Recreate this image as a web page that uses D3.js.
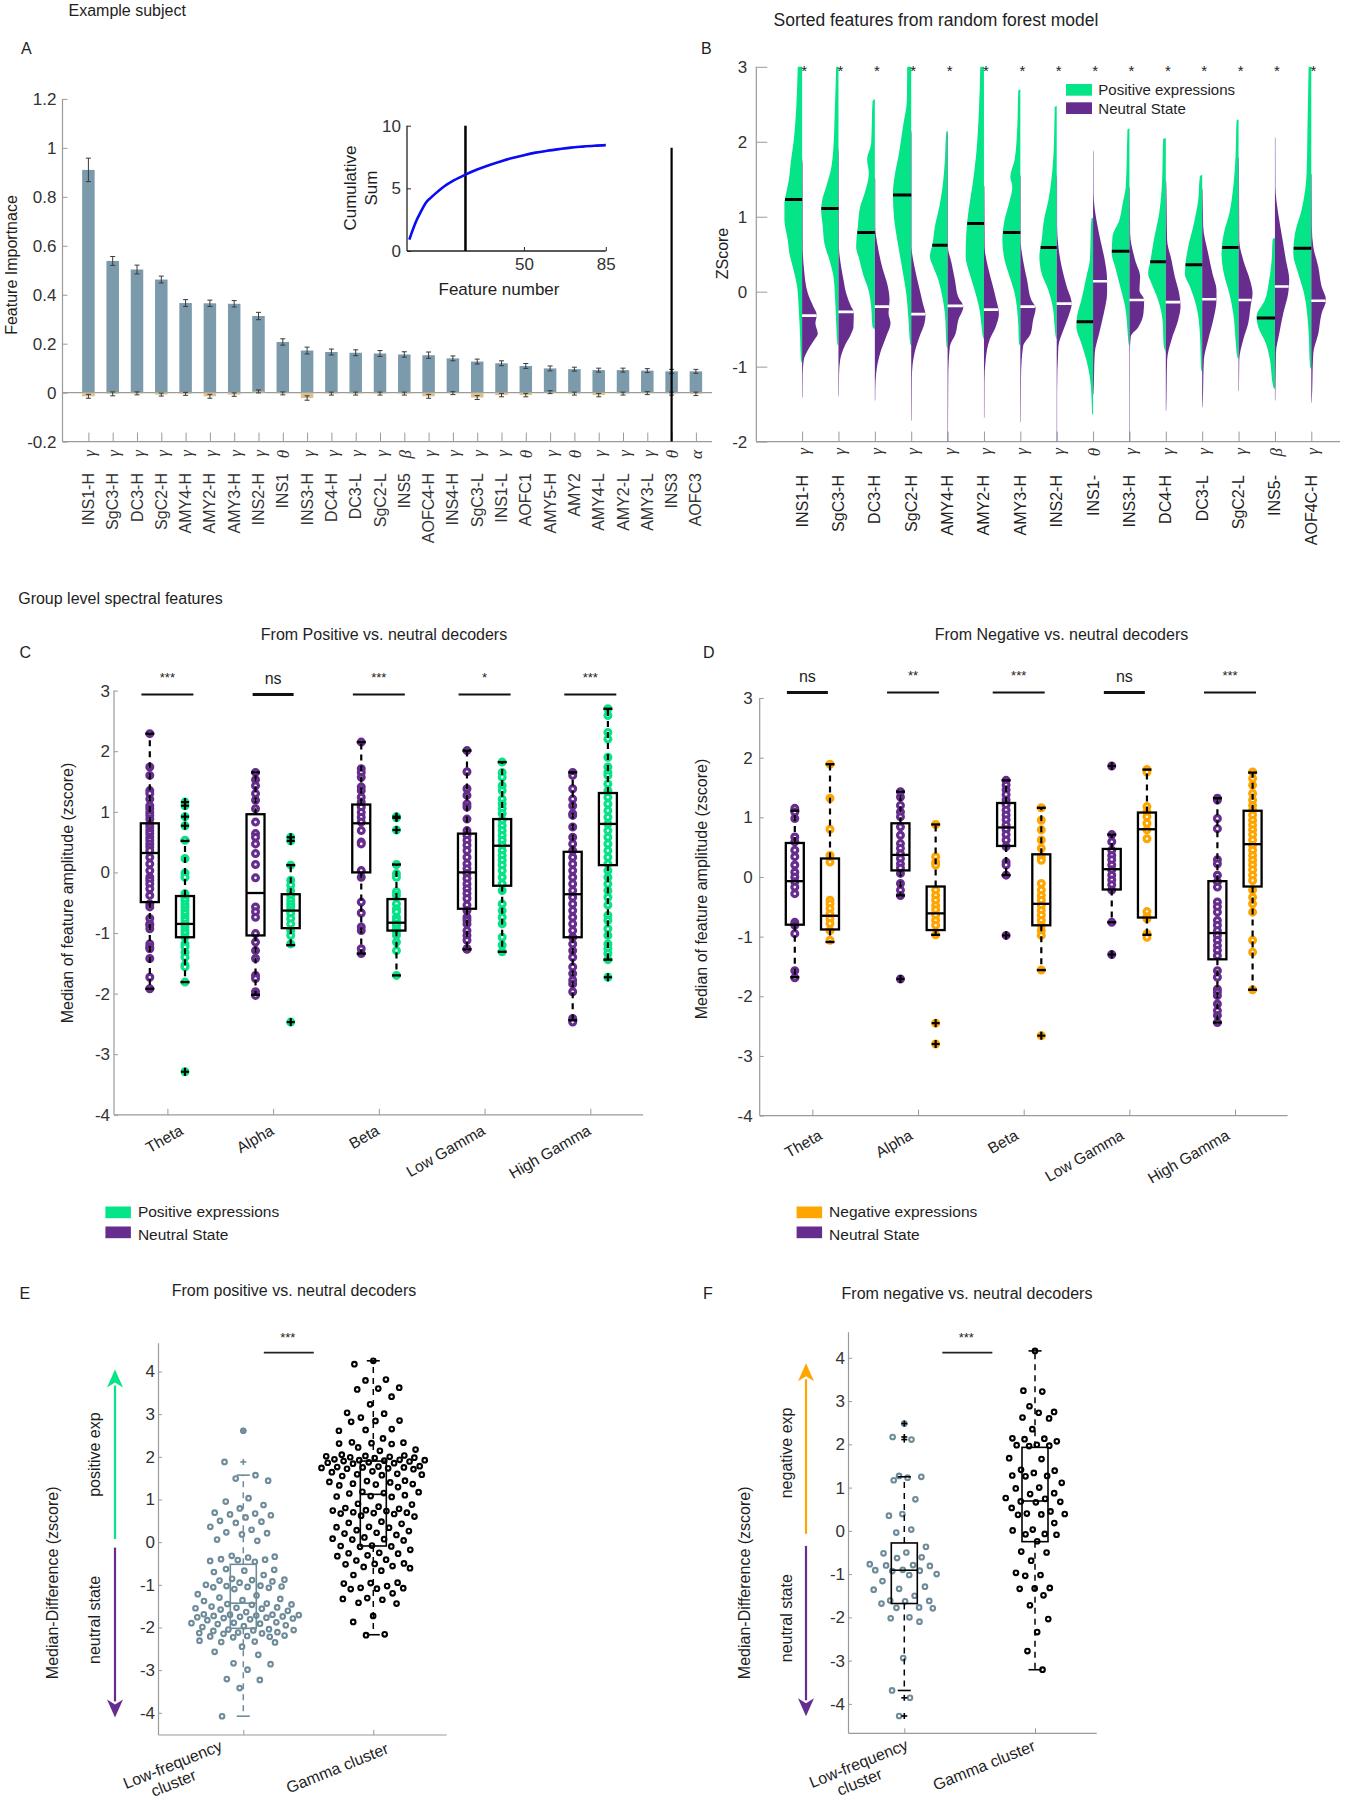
<!DOCTYPE html>
<html><head><meta charset="utf-8"><title>Spectral features figure</title>
<script src="https://cdn.jsdelivr.net/npm/d3@7"></script>
<style>html,body{margin:0;padding:0;background:#fff;}</style>
</head><body>
<script>
// ================= DATA =================
// ---- Panel A : feature importance (example subject)
const aNames = ["INS1-H","SgC3-H","DC3-H","SgC2-H","AMY4-H","AMY2-H","AMY3-H","INS2-H","INS1","INS3-H","DC4-H","DC3-L","SgC2-L","INS5","AOFC4-H","INS4-H","SgC3-L","INS1-L","AOFC1","AMY5-H","AMY2","AMY4-L","AMY2-L","AMY3-L","INS3","AOFC3"];
const aBands = ["γ","γ","γ","γ","γ","γ","γ","γ","θ","γ","γ","γ","γ","β","γ","γ","γ","γ","θ","γ","θ","γ","γ","γ","θ","α"];
const aImportance = [0.91,0.538,0.503,0.462,0.366,0.365,0.363,0.313,0.207,0.172,0.166,0.163,0.16,0.156,0.153,0.14,0.127,0.12,0.109,0.099,0.096,0.092,0.092,0.09,0.087,0.087];
const aImportanceErr = [0.048,0.018,0.018,0.014,0.014,0.013,0.013,0.015,0.013,0.014,0.012,0.012,0.012,0.011,0.013,0.01,0.01,0.01,0.01,0.01,0.008,0.008,0.008,0.008,0.008,0.008];
const aNullImportance = [-0.015,-0.005,-0.003,-0.008,-0.005,-0.015,-0.008,0.005,-0.003,-0.022,-0.004,-0.004,-0.004,-0.004,-0.015,-0.002,-0.02,-0.01,-0.01,0.002,-0.004,-0.01,-0.004,-0.002,-0.004,-0.005];
const aNullErr = [0.008,0.008,0.006,0.006,0.006,0.008,0.007,0.006,0.006,0.009,0.006,0.006,0.006,0.006,0.008,0.006,0.008,0.007,0.007,0.006,0.006,0.007,0.006,0.006,0.006,0.007];
const aTicks = [-0.2,0,0.2,0.4,0.6,0.8,1,1.2];
const aCutoffFeature = "INS3";
const aCutoffTop = 1.0;
// inset: cumulative sum of importance
const insetFeatureNum = [1,2,4,6,8,10,12,15,20,25,30,35,40,45,50,55,60,65,70,75,80,85];
const insetCumSum = [0.91,1.45,2.42,3.16,3.84,4.22,4.56,5.03,5.63,6.1,6.5,6.85,7.15,7.42,7.65,7.85,8.0,8.13,8.25,8.33,8.4,8.45];
const insetCutoff = 25;
const insetXTicks = [50,85];
const insetYTicks = [0,5,10];

// ---- Panel B : split violins (z-score)
const bNames = ["INS1-H","SgC3-H","DC3-H","SgC2-H","AMY4-H","AMY2-H","AMY3-H","INS2-H","INS1-","INS3-H","DC4-H","DC3-L","SgC2-L","INS5-","AOF4C-H"];
const bBands = ["γ","γ","γ","γ","γ","γ","γ","γ","θ","γ","γ","γ","γ","β","γ"];
const bPosMedian = [1.23,1.11,0.79,1.29,0.62,0.91,0.79,0.59,-0.4,0.54,0.4,0.36,0.59,-0.35,0.58];
const bNeuMedian = [-0.32,-0.27,-0.2,-0.3,-0.19,-0.24,-0.2,-0.16,0.14,-0.11,-0.14,-0.1,-0.11,0.07,-0.12];
// density profiles [zscore, density]
const bPosDensity = [
 [[3.3,3.5],[3.0,4.3],[2.42,6],[1.98,8.7],[1.76,11],[1.49,13.3],[1.31,16],[1.18,17.7],[0.96,17.7],[0.69,14.3],[0.51,12.7],[0.33,9.3],[0.07,5],[-0.24,3.3],[-0.6,2],[-0.91,1.2],[-0.95,0]],
 [[3.3,2],[3.0,2.3],[2.42,3.7],[1.93,5],[1.62,7.7],[1.4,12.3],[1.22,16.3],[1.09,17.3],[0.87,15.7],[0.64,14],[0.42,9],[0.2,5],[-0.11,3.3],[-0.5,2],[-0.69,1.2],[-0.72,0]],
 [[2.57,0],[2.54,2.3],[1.98,3.7],[1.76,7.7],[1.58,6],[1.31,10.3],[1.13,14.7],[0.87,17],[0.6,18.7],[0.42,15.3],[0.24,12],[0.02,6.3],[-0.2,3.7],[-0.47,2.3],[-0.5,0]],
 [[3.3,3.5],[3.0,4],[2.56,4.3],[2.2,8.3],[1.84,12.3],[1.53,16.7],[1.31,18.3],[1.0,17.3],[0.64,13.3],[0.33,9.3],[-0.02,5],[-0.38,2.7],[-0.69,1],[-0.72,0]],
 [[2.15,0],[2.13,1.3],[1.76,2.7],[1.4,5],[1.13,8.3],[0.87,12.7],[0.64,15],[0.47,17.7],[0.33,14.3],[0.16,9.3],[-0.02,6],[-0.29,2.7],[-0.73,1],[-0.76,0]],
 [[3.3,3.5],[3.0,3.7],[2.42,5],[1.84,7.7],[1.4,11.7],[1.09,15.3],[0.78,17.7],[0.47,18.3],[0.24,14.3],[0.02,9.3],[-0.2,5],[-0.47,2.3],[-0.6,1],[-0.63,0]],
 [[2.7,0],[2.68,2],[2.2,3],[1.76,5.7],[1.53,10],[1.4,8],[1.18,11.3],[0.96,15.7],[0.69,18],[0.42,15.7],[0.2,10.7],[-0.02,5.7],[-0.38,2.3],[-0.69,1.3],[-0.72,0]],
 [[2.48,0],[2.46,2],[1.98,2.7],[1.53,5],[1.22,8.3],[0.96,12.7],[0.69,15],[0.47,17.3],[0.24,15],[0.02,8.3],[-0.2,4],[-0.47,2],[-0.6,1],[-0.63,0]],
 [[0.99,0],[0.97,1.7],[0.42,3.3],[0.2,6.7],[-0.11,11.7],[-0.33,16],[-0.47,16.7],[-0.69,11.7],[-0.91,6.7],[-1.13,3.3],[-1.36,1.7],[-1.62,1],[-1.65,0]],
 [[2.18,0],[2.16,2],[1.76,2.7],[1.4,3.7],[1.18,6.7],[0.96,10],[0.73,17],[0.51,17.7],[0.33,14.3],[0.07,9.3],[-0.2,4.3],[-0.56,1.7],[-0.7,0.8],[-0.72,0]],
 [[2.05,0],[2.03,2.7],[1.49,3.7],[1.04,6.7],[0.69,12],[0.42,15.3],[0.24,17.7],[0.11,14.3],[-0.11,7.7],[-0.38,3.3],[-0.73,2],[-0.8,0]],
 [[1.56,0],[1.54,2.3],[1.22,4],[0.87,9],[0.6,14],[0.42,16.3],[0.24,17.3],[0.07,12.3],[-0.2,5.7],[-0.56,2.3],[-1.04,1],[-1.07,0]],
 [[2.3,0],[2.28,2],[1.8,3],[1.4,5.3],[1.04,9.3],[0.78,14.7],[0.51,17],[0.24,14.7],[-0.02,9.3],[-0.29,5.3],[-0.69,2.7],[-0.87,1.3],[-0.9,0]],
 [[0.72,0],[0.7,2.3],[0.42,3.3],[0.16,5.7],[-0.11,10],[-0.33,18.3],[-0.47,16.7],[-0.69,9],[-0.91,5],[-1.27,1.7],[-1.3,0]],
 [[3.3,2.5],[3.0,2.7],[2.29,3.7],[1.58,4.7],[1.09,9.7],[0.78,16.3],[0.51,18],[0.24,13],[-0.02,7.3],[-0.47,3],[-1.0,1.3],[-1.03,0]]
];
const bNeuDensity = [
 [[1.78,0],[1.7,0.5],[0.6,0.6],[0.33,1.7],[-0.02,5.7],[-0.2,11.3],[-0.31,14.7],[-0.42,13.3],[-0.56,15.7],[-0.64,12.3],[-0.78,5.7],[-0.91,1.7],[-1.1,0.6],[-1.4,0.4],[-1.42,0]],
 [[1.92,0],[1.85,0.4],[0.6,0.5],[0.33,2.7],[0.16,5],[-0.02,7.7],[-0.2,12.7],[-0.27,15.3],[-0.47,15],[-0.56,12.7],[-0.73,6],[-0.91,1.7],[-1.1,0.6],[-1.38,0.4],[-1.4,0]],
 [[1.53,0],[1.5,0.4],[0.87,0.4],[0.6,3],[0.33,7.3],[0.07,13],[-0.11,14.7],[-0.29,13.7],[-0.42,15.7],[-0.6,11.3],[-0.82,5.3],[-1.09,1.3],[-1.3,0.5],[-1.44,0.4],[-1.46,0]],
 [[2.16,0],[2.1,0.4],[0.6,0.4],[0.33,3.3],[0.07,7.7],[-0.16,11.7],[-0.31,14.3],[-0.42,13.3],[-0.6,8.3],[-0.82,3.3],[-1.13,0.7],[-1.71,0.4],[-1.73,0]],
 [[2.14,0],[2.1,0.4],[0.6,0.4],[0.38,4],[0.16,7.3],[-0.07,10.7],[-0.2,15.7],[-0.38,10.7],[-0.56,8],[-0.73,2.3],[-1.13,0.7],[-2.1,0.4]],
 [[1.42,0],[1.4,0.4],[0.6,0.7],[0.33,4],[0.07,9],[-0.11,12.3],[-0.29,15],[-0.47,11.7],[-0.64,5.7],[-0.91,1.7],[-1.2,0.5],[-1.67,0.4],[-1.69,0]],
 [[1.56,0],[1.53,0.4],[0.69,0.4],[0.42,2.7],[0.16,6.7],[-0.11,11],[-0.22,15.3],[-0.38,12.7],[-0.56,10.3],[-0.73,2.7],[-1.13,0.7],[-1.73,0.4],[-1.75,0]],
 [[1.56,0],[1.53,0.4],[0.87,0.4],[0.6,1.7],[0.33,5],[0.07,10],[-0.16,15],[-0.33,11.7],[-0.51,6.7],[-0.73,1.7],[-1.36,0.4],[-2.1,0.4]],
 [[1.89,0],[1.86,0.4],[1.31,0.5],[0.96,3.3],[0.69,7.3],[0.42,11.7],[0.16,14],[-0.02,14],[-0.29,10.7],[-0.56,6],[-0.82,1.7],[-1.36,0.4],[-1.38,0]],
 [[1.4,0],[1.38,0.4],[0.78,0.7],[0.42,5.7],[0.2,10.7],[0.02,10],[-0.11,14.7],[-0.29,14],[-0.47,9],[-0.6,1.3],[-0.8,0.5],[-2.1,0.4]],
 [[1.49,0],[1.46,0.4],[0.69,1.3],[0.42,5.7],[0.2,9],[-0.02,13.3],[-0.2,14.7],[-0.38,12.3],[-0.64,5.7],[-0.91,1.3],[-1.58,0.4],[-1.6,0]],
 [[1.38,0],[1.35,0.4],[0.87,1],[0.51,6],[0.24,10.3],[0.02,14.3],[-0.11,14.3],[-0.38,11],[-0.64,6],[-0.91,1.7],[-1.53,0.4],[-1.55,0]],
 [[1.8,0],[1.77,0.4],[0.69,0.7],[0.42,4.7],[0.16,11.3],[-0.02,14],[-0.2,12],[-0.42,9.7],[-0.64,4.7],[-0.91,0.7],[-1.31,0.4],[-1.33,0]],
 [[2.07,0],[2.04,0.4],[1.4,0.5],[1.04,3.3],[0.69,7.7],[0.42,11],[0.16,14.3],[-0.02,13.3],[-0.29,8.3],[-0.56,4.3],[-0.82,1],[-1.44,0.4],[-1.46,0]],
 [[1.58,0],[1.55,0.4],[0.85,0.6],[0.6,2],[0.33,7],[0.07,10.3],[-0.11,14.7],[-0.29,10.3],[-0.56,7],[-0.82,2],[-1.47,0.4],[-1.49,0]]
];
const bTicks = [-2,-1,0,1,2,3];

// ---- Panels C/D : group level box plots
const bandNames = ["Theta","Alpha","Beta","Low Gamma","High Gamma"];
const cdTicks = [-4,-3,-2,-1,0,1,2,3];
const cNeutralPts = [
 [2.29,1.74,1.6,1.35,1.3,1.21,1.1,1.05,0.99,0.94,0.88,0.8,0.75,0.69,0.64,0.58,0.53,0.47,0.42,0.36,0.25,0.14,0.03,-0.08,-0.13,-0.19,-0.27,-0.38,-0.52,-0.57,-0.76,-0.85,-0.87,-0.93,-1.18,-1.23,-1.26,-1.42,-1.73,-1.92],
 [1.65,1.53,1.43,1.3,1.19,1.05,0.83,0.64,0.58,0.47,0.31,0.13,-0.09,-0.57,-0.65,-0.74,-1.01,-1.15,-1.29,-1.42,-1.7,-1.75,-1.97,-2.03],
 [2.15,1.71,1.65,1.57,1.41,1.35,1.24,1.16,1.08,0.99,0.91,0.83,0.69,0.5,0.47,0.03,-0.08,-0.49,-0.67,-0.9,-0.96,-1.26,-1.34],
 [2.01,1.66,1.38,1.27,1.13,1.08,0.88,0.69,0.61,0.53,0.45,0.36,0.25,0.14,0.06,-0.02,-0.1,-0.19,-0.27,-0.35,-0.43,-0.54,-0.63,-0.74,-0.79,-0.85,-0.96,-1.04,-1.12,-1.26,-1.27],
 [1.65,1.6,1.38,1.21,1.1,0.97,0.94,0.75,0.58,0.47,0.36,0.25,0.14,0.03,-0.08,-0.19,-0.3,-0.41,-0.52,-0.63,-0.74,-0.85,-0.96,-1.07,-1.18,-1.29,-1.4,-1.56,-1.67,-1.78,-1.84,-1.97,-2.41,-2.47]
];
const cPositivePts = [
 [1.16,1.1,0.92,0.77,0.53,0.23,-0.01,-0.08,-0.35,-0.41,-0.46,-0.52,-0.57,-0.63,-0.68,-0.74,-0.79,-0.85,-0.9,-0.96,-1.01,-1.07,-1.18,-1.23,-1.32,-1.4,-1.53,-1.56,-1.81,-3.29],
 [0.58,0.52,0.12,-0.13,-0.21,-0.3,-0.38,-0.46,-0.52,-0.57,-0.63,-0.68,-0.76,-0.85,-0.96,-1.04,-1.18,-2.47],
 [0.92,0.9,0.7,0.13,-0.02,-0.08,-0.32,-0.38,-0.52,-0.6,-0.65,-0.74,-0.79,-0.85,-0.87,-0.93,-0.98,-1.04,-1.15,-1.29,-1.7],
 [1.82,1.65,1.57,1.43,1.35,1.21,1.13,1.05,0.97,0.86,0.77,0.69,0.61,0.53,0.45,0.36,0.28,0.2,0.12,0.03,-0.08,-0.19,-0.3,-0.52,-0.63,-0.74,-0.85,-1.07,-1.2,-1.31],
 [2.7,2.59,2.31,2.2,1.9,1.74,1.65,1.6,1.46,1.35,1.24,1.13,1.02,0.91,0.8,0.69,0.58,0.47,0.36,0.25,0.14,0.03,-0.08,-0.19,-0.3,-0.41,-0.54,-0.71,-0.79,-0.93,-1.04,-1.18,-1.26,-1.34,-1.44,-1.73]
];
// box stats: [lower whisker, q1, median, q3, upper whisker]
const cNeutralBox = [[-1.92,-0.49,0.32,0.81,2.29],[-2.02,-1.04,-0.34,0.96,1.65],[-1.34,0.0,0.81,1.12,2.15],[-1.27,-0.6,0.0,0.64,2.01],[-2.44,-1.07,-0.36,0.34,1.65]];
const cPositiveBox = [[-1.81,-1.07,-0.85,-0.39,0.52],[-1.2,-0.92,-0.63,-0.36,0.12],[-1.7,-0.96,-0.83,-0.44,0.13],[-1.31,-0.22,0.44,0.88,1.82],[-1.44,0.12,0.8,1.31,2.7]];
const cNeutralOut = [[],[],[],[],[]];
const cPositiveOut = [[1.16,1.1,0.92,0.77,-3.29],[0.58,0.52,-2.47],[0.92,0.9,0.7],[],[-1.73]];
const cSignif = ["***","ns","***","*","***"];

const dNeutralPts = [
 [1.15,1.09,0.98,0.67,0.59,0.45,0.34,0.2,0.08,0,-0.08,-0.17,-0.28,-0.76,-0.81,-0.95,-1.57,-1.69],
 [1.43,1.34,1.2,1.09,1.01,0.84,0.7,0.56,0.48,0.39,0.31,0.22,0.15,0.06,-0.11,-0.22,-0.31,-1.71],
 [1.62,1.54,1.46,1.38,1.29,1.21,1.12,1.04,0.96,0.87,0.79,0.71,0.62,0.51,0.25,0.2,0.03,-0.98],
 [1.86,0.71,0.59,0.45,0.36,0.29,0.2,0.12,0.03,-0.05,-0.13,-0.22,-0.76,-1.3],
 [1.32,1.29,0.98,0.81,0.29,0.22,0.03,-0.08,-0.17,-0.42,-0.5,-0.59,-0.73,-0.81,-0.9,-0.98,-1.06,-1.15,-1.23,-1.32,-1.57,-1.68,-1.88,-1.93,-1.99,-2.13,-2.24,-2.32,-2.44]
];
const dNegativePts = [
 [1.89,1.32,0.8,0.36,0.25,-0.39,-0.45,-0.53,-0.62,-0.7,-0.78,-0.9,-1.06],
 [0.88,0.34,0.25,0.2,-0.22,-0.31,-0.39,-0.48,-0.55,-0.64,-0.73,-0.81,-0.97,-2.45,-2.8],
 [1.16,0.95,0.79,0.62,0.48,0.34,0.28,-0.11,-0.22,-0.31,-0.39,-0.48,-0.56,-0.64,-0.73,-0.81,-0.9,-0.98,-1.56,-2.66],
 [1.8,1.76,1.18,1.09,1.01,0.9,0.79,0.64,-0.58,-0.67,-0.7,-0.95,-1.01],
 [1.76,1.65,1.54,1.4,1.29,1.2,1.12,1.04,0.95,0.87,0.79,0.71,0.62,0.53,0.45,0.36,0.28,0.2,0.12,0.03,-0.06,-0.22,-0.34,-0.45,-0.59,-1.06,-1.26,-1.89]
];
const dNeutralBox = [[-1.68,-0.8,-0.07,0.57,1.11],[-0.31,0.11,0.37,0.9,1.43],[0.03,0.52,0.83,1.24,1.62],[-0.76,-0.21,0.13,0.47,0.71],[-2.44,-1.38,-0.94,-0.07,1.32]];
const dNegativeBox = [[-1.09,-0.88,-0.65,0.31,1.89],[-0.97,-0.89,-0.61,-0.16,0.88],[-1.56,-0.81,-0.45,0.38,1.16],[-0.97,-0.68,0.8,1.08,1.8],[-1.89,-0.16,0.55,1.11,1.75]];
const dNeutralOut = [[],[-1.71],[-0.98],[1.86,-1.3],[]];
const dNegativeOut = [[],[-2.45,-2.8],[-2.66],[],[]];
const dSignif = ["ns","**","***","ns","***"];

// ---- Panels E/F : median differences by cluster
const clusterNames = ["Low-frequency cluster","Gamma cluster"];
const efTicks = [-4,-3,-2,-1,0,1,2,3,4];
const eLowPts = [2.61,1.88,1.57,1.49,1.44,1.03,0.95,0.87,0.79,0.69,0.67,0.65,0.63,0.58,0.5,0.48,0.45,0.36,0.29,0.23,0.21,0.18,0.06,0.03,
 -0.32,-0.34,-0.36,-0.4,-0.42,-0.44,-0.41,-0.46,-0.63,-0.65,-0.67,-0.7,-0.77,-0.86,-0.88,-0.9,-0.92,-0.89,-0.95,-1.0,-1.02,-1.04,-1.05,-1.03,-1.07,-1.06,-1.1,
 -1.22,-1.25,-1.3,-1.33,-1.36,-1.38,-1.44,-1.46,-1.47,-1.45,-1.51,-1.53,-1.55,-1.56,-1.54,-1.58,-1.61,-1.64,-1.69,-1.7,-1.71,-1.72,-1.73,-1.7,-1.74,
 -1.76,-1.77,-1.75,-1.78,-1.79,-1.81,-1.83,-1.88,-1.9,-1.91,-1.89,-1.92,-1.95,-1.97,-1.99,-2.04,-2.05,-2.06,-2.07,-2.08,-2.12,-2.13,-2.14,-2.11,-2.15,
 -2.19,-2.2,-2.21,-2.23,-2.22,-2.31,-2.33,-2.34,-2.35,-2.45,-2.57,-2.64,-2.84,-2.86,-2.99,-3.21,-3.23,-3.42,-4.08];
const eGammaPts = [4.25,4.17,3.81,3.79,3.62,3.6,3.58,3.41,3.23,3.03,3.01,2.92,2.85,2.84,2.82,2.65,2.63,2.61,2.43,2.34,2.33,2.32,2.31,2.3,2.22,2.17,2.14,
 2.05,2.03,2.02,2.01,2.0,1.99,1.98,1.97,1.94,1.93,1.92,1.92,1.91,1.9,1.89,1.87,1.86,1.85,1.84,1.78,1.77,1.76,1.75,1.75,1.74,1.73,1.72,1.71,
 1.66,1.64,1.6,1.59,1.58,1.57,1.55,1.44,1.43,1.41,1.4,1.37,1.36,1.35,1.33,1.29,1.18,1.17,1.15,1.14,1.1,1.08,1.07,1.06,0.9,0.88,0.83,
 0.8,0.78,0.75,0.74,0.73,0.7,0.69,0.68,0.67,0.66,0.62,0.6,0.48,0.45,0.43,0.36,0.35,0.34,0.28,0.26,0.22,0.2,0.17,0.11,0.08,0.07,0.06,0.04,
 -0.08,-0.09,-0.1,-0.11,-0.18,-0.25,-0.26,-0.27,-0.31,-0.33,-0.41,-0.43,-0.5,-0.51,-0.52,-0.56,-0.58,-0.61,-0.67,-0.77,-0.95,-0.96,-0.97,
 -1.03,-1.07,-1.08,-1.09,-1.1,-1.2,-1.31,-1.33,-1.35,-1.42,-1.44,-1.73,-1.87,-2.16,-2.18];
const eBoxLow = [-4.08,-2.02,-1.43,-0.52,1.57];
const eBoxGamma = [-2.17,-0.09,1.12,1.9,4.25];
const eOutLow = [2.61,1.88];
const eOutGamma = [];
const fLowPts = [2.48,2.17,2.11,1.27,1.25,1.23,1.17,0.73,0.39,0.35,0.03,-0.04,-0.37,-0.5,-0.52,-0.61,-0.63,-0.77,-0.79,-0.8,-0.81,
 -0.9,-0.91,-0.92,-0.93,-1.0,-1.02,-1.16,-1.29,-1.34,-1.36,-1.5,-1.61,-1.62,-1.63,-1.68,-1.77,-1.78,-1.79,-2.0,-2.02,-2.1,-2.94,-3.69,-3.86,-4.28];
const fGammaPts = [4.16,3.24,3.22,2.88,2.75,2.73,2.62,2.6,2.35,2.14,2.13,2.12,2.07,1.99,1.98,1.97,1.96,1.68,1.66,1.41,1.39,1.34,1.28,1.27,1.26,1.11,
 1.0,0.98,0.87,0.85,0.76,0.74,0.68,0.67,0.66,0.53,0.45,0.4,0.39,0.38,0.37,0.18,0.03,0.01,-0.07,-0.08,-0.09,-0.24,-0.48,-0.5,-0.69,-0.97,
 -1.02,-1.04,-1.32,-1.33,-1.34,-1.49,-1.72,-2.04,-2.34,-2.78,-3.21];
const fBoxLow = [-3.69,-1.68,-0.91,-0.28,1.25];
const fBoxGamma = [-3.21,-0.25,0.69,1.93,4.16];
const fOutLow = [2.48,2.17,2.11,-3.86,-4.28];
const fOutGamma = [];

// ================= STYLE =================
const FONT = "'Liberation Sans', Arial, Helvetica, sans-serif";
const SERIF = "'Liberation Serif', 'DejaVu Serif', serif";
const GREEN = "#05e487", PURPLE = "#662d8f", ORANGE = "#ffa500";
const BAR = "#7b9aab", TAN = "#dcbf8e", SLATE = "#6e8b9a";
const AXIS = "#9a9a9a", TXT = "#1e1e1e", TICKTXT = "#333";

const svg = d3.select("body").append("svg").attr("width",1345).attr("height",1800)
  .style("font-family", FONT).style("background","#fff");

function text(g, x, y, s, o = {}) {
  const t = g.append("text").attr("x", x).attr("y", y).text(s)
    .attr("font-size", o.size || 16).attr("fill", o.fill || TXT)
    .attr("text-anchor", o.anchor || "start").attr("font-family", o.family || FONT);
  if (o.rotate != null) t.attr("transform", `rotate(${o.rotate},${x},${y})`);
  if (o.baseline) t.attr("dominant-baseline", o.baseline);
  if (o.italic) t.attr("font-style", "italic");
  return t;
}
function styleAxis(sel, size, color) {
  sel.select(".domain").remove();
  sel.selectAll(".tick line").attr("stroke", color || AXIS).attr("stroke-width", 1);
  sel.selectAll(".tick text").attr("font-size", size).attr("fill", TICKTXT).attr("font-family", FONT);
}
function hline(g, x1, x2, y, c, w) { return g.append("line").attr("x1",x1).attr("x2",x2).attr("y1",y).attr("y2",y).attr("stroke",c).attr("stroke-width",w); }
function vline(g, x, y1, y2, c, w) { return g.append("line").attr("x1",x).attr("x2",x).attr("y1",y1).attr("y2",y2).attr("stroke",c).attr("stroke-width",w); }
const fmt = d => String(d);

// ================= PANEL A =================
(function(){
  const g = svg.append("g");
  text(g, 68.5, 16, "Example subject");
  text(g, 21, 54, "A");
  const xA = d3.scalePoint().domain(aNames).range([88.4, 695.9]);
  const yA = d3.scaleLinear().domain([-0.2, 1.2]).range([441.6, 98.9]);
  const L = 62.5, R = 712;
  vline(g, L, yA(1.2), yA(-0.2), AXIS, 1.2);
  hline(g, L, R, yA(-0.2), AXIS, 1.2);
  g.append("g").attr("transform", `translate(${L},0)`)
    .call(d3.axisLeft(yA).tickValues(aTicks).tickSize(-5).tickPadding(6).tickFormat(fmt))
    .call(s => styleAxis(s, 17));
  g.append("g").attr("transform", `translate(0,${yA(-0.2)})`)
    .call(d3.axisBottom(xA).tickSize(-9).tickFormat(""))
    .call(s => styleAxis(s, 16));
  hline(g, L, R, yA(0), AXIS, 1.2);
  const bw = 12.5;
  aNames.forEach((n, i) => {
    const x = xA(n), v = aImportance[i], e = aImportanceErr[i];
    g.append("rect").attr("x", x - bw/2).attr("width", bw).attr("y", yA(v)).attr("height", yA(0) - yA(v)).attr("fill", BAR);
    const nv = aNullImportance[i];
    g.append("rect").attr("x", x - bw/2).attr("width", bw).attr("y", Math.min(yA(0), yA(nv))).attr("height", Math.abs(yA(nv) - yA(0))).attr("fill", TAN);
    [[v, e], [nv, aNullErr[i]]].forEach(([m, er]) => {
      vline(g, x, yA(m - er), yA(m + er), "#3a3a3a", 1);
      hline(g, x - 2.5, x + 2.5, yA(m + er), "#3a3a3a", 1);
      hline(g, x - 2.5, x + 2.5, yA(m - er), "#3a3a3a", 1);
    });
    text(g, x, 473, n, {anchor:"end", rotate:-90, baseline:"central", fill:"#333"});
    text(g, x + 1, 450, aBands[i], {anchor:"end", rotate:-90, baseline:"central", italic:true, family:SERIF, fill:"#333", size:17});
  });
  vline(g, xA(aCutoffFeature), yA(aCutoffTop), yA(-0.2), "#000", 2.2);
  text(g, 11, 265, "Feature Importnace", {anchor:"middle", rotate:-90, baseline:"central"});

  // inset
  const xI = d3.scaleLinear().domain([0, 85]).range([407, 605.8]);
  const yI = d3.scaleLinear().domain([0, 10]).range([251, 125.7]);
  vline(g, xI(0), yI(10), yI(0), "#222", 1.3);
  hline(g, xI(0), xI(85), yI(0), "#222", 1.3);
  g.append("g").attr("transform", `translate(${xI(0)},0)`)
    .call(d3.axisLeft(yI).tickValues(insetYTicks).tickSize(-4).tickPadding(6).tickFormat(fmt))
    .call(s => styleAxis(s, 17, "#222"));
  g.append("g").attr("transform", `translate(0,${yI(0)})`)
    .call(d3.axisBottom(xI).tickValues(insetXTicks).tickSize(-4).tickPadding(7).tickFormat(fmt))
    .call(s => styleAxis(s, 17, "#222"));
  vline(g, xI(insetCutoff), yI(10), yI(0), "#000", 2.5);
  g.append("path").datum(insetFeatureNum.map((f, i) => [f, insetCumSum[i]]))
    .attr("d", d3.line().x(d => xI(d[0])).y(d => yI(d[1])).curve(d3.curveMonotoneX))
    .attr("fill", "none").attr("stroke", "#0a0af5").attr("stroke-width", 2.6);
  text(g, 350, 188, "Cumulative", {anchor:"middle", rotate:-90, baseline:"central", size:17});
  text(g, 371, 188, "Sum", {anchor:"middle", rotate:-90, baseline:"central", size:17});
  text(g, 499, 295, "Feature number", {anchor:"middle", size:17});
})();

// ================= PANEL B =================
(function(){
  const g = svg.append("g");
  text(g, 701, 53.5, "B");
  text(g, 936, 26, "Sorted features from random forest model", {anchor:"middle", size:17.5});
  const xB = d3.scalePoint().domain(bNames).range([802.1, 1311.3]);
  const yB = d3.scaleLinear().domain([-2, 3]).range([441.6, 66.8]);
  const wB = d3.scaleLinear().domain([0, 20]).range([0, 20]);
  const L = 756.3, R = 1340;
  vline(g, L, yB(3), yB(-2), AXIS, 1.2);
  hline(g, L, R, yB(-2), AXIS, 1.2);
  g.append("g").attr("transform", `translate(${L},0)`)
    .call(d3.axisLeft(yB).tickValues(bTicks).tickSize(-11).tickPadding(9).tickFormat(fmt))
    .call(s => styleAxis(s, 17));
  g.append("g").attr("transform", `translate(0,${yB(-2)})`)
    .call(d3.axisBottom(xB).tickSize(-10).tickFormat(""))
    .call(s => styleAxis(s, 16));
  svg.append("clipPath").attr("id", "clipB").append("rect")
    .attr("x", L).attr("y", yB(3)).attr("width", R - L).attr("height", yB(-2) - yB(3));
  const vg = g.append("g").attr("clip-path", "url(#clipB)");
  bNames.forEach((n, i) => {
    const xc = xB(n);
    const pos = bPosDensity[i], neu = bNeuDensity[i];
    vg.append("path").datum(pos)
      .attr("d", d3.area().y(d => yB(d[0])).x0(d => xc - wB(d[1])).x1(xc).curve(d3.curveMonotoneY))
      .attr("fill", GREEN);
    vg.append("path").datum(neu)
      .attr("d", d3.area().y(d => yB(d[0])).x0(xc).x1(d => xc + wB(d[1])).curve(d3.curveMonotoneY))
      .attr("fill", PURPLE);
    const interp = prof => { const s = prof.slice().reverse(); return d3.scaleLinear().domain(s.map(d => d[0])).range(s.map(d => d[1])).clamp(true); };
    const wp = wB(interp(pos)(bPosMedian[i])), wn = wB(interp(neu)(bNeuMedian[i]));
    hline(vg, xc - wp, xc, yB(bPosMedian[i]), "#000", 3);
    hline(vg, xc, xc + wn, yB(bNeuMedian[i]), "#fff", 2.6);
    text(g, xc + 2, 76, "*", {anchor:"middle", size:15});
    text(g, xc, 475, n, {anchor:"end", rotate:-90, baseline:"central"});
    text(g, xc + 1.5, 448, bBands[i], {anchor:"end", rotate:-90, baseline:"central", italic:true, family:SERIF, fill:"#333", size:17});
  });
  text(g, 722.5, 253.5, "ZScore", {anchor:"middle", rotate:-90, baseline:"central"});
  // legend
  g.append("rect").attr("x", 1066).attr("y", 84).attr("width", 26).attr("height", 11.7).attr("fill", GREEN);
  g.append("rect").attr("x", 1066).attr("y", 102.3).attr("width", 26).attr("height", 11.7).attr("fill", PURPLE);
  text(g, 1098.3, 95, "Positive expressions", {size:15});
  text(g, 1098.3, 114, "Neutral State", {size:15});
})();

// ================= PANELS C / D =================
function groupPanel(o) {
  const g = svg.append("g");
  text(g, o.letterX, 658, o.letter);
  text(g, o.titleX, 640, o.title, {anchor:"middle"});
  const y = d3.scaleLinear().domain([-4, 3]).range([o.yBot, o.yTop]);
  const x = d3.scalePoint().domain(bandNames).range(o.tickRange);
  vline(g, o.L, y(3), y(-4), AXIS, 1.2);
  hline(g, o.L, o.R, y(-4), AXIS, 1.2);
  g.append("g").attr("transform", `translate(${o.L},0)`)
    .call(d3.axisLeft(y).tickValues(cdTicks).tickSize(-4).tickPadding(o.pad).tickFormat(fmt))
    .call(s => styleAxis(s, 17));
  g.append("g").attr("transform", `translate(0,${y(-4)})`)
    .call(d3.axisBottom(x).tickSize(-6).tickFormat(""))
    .call(s => styleAxis(s, 16));
  const off = 17.6, bw = 18, cap = 9;
  const series = [
    {pts: o.ptsA, box: o.boxA, out: o.outA, col: PURPLE, dx: -off},
    {pts: o.ptsB, box: o.boxB, out: o.outB, col: o.colB, dx: off}
  ];
  series.forEach(s => bandNames.forEach((b, i) => {
    const cx = x(b) + s.dx;
    g.selectAll(null).data(s.pts[i]).enter().append("circle")
      .attr("cx", cx).attr("cy", d => y(d)).attr("r", 2.9)
      .attr("fill", "#fff").attr("stroke", s.col).attr("stroke-width", 3.2);
  }));
  series.forEach(s => bandNames.forEach((b, i) => {
    const cx = x(b) + s.dx, st = s.box[i];
    vline(g, cx, y(st[3]), y(st[4]), "#000", 2.2).attr("stroke-dasharray", "6,5");
    vline(g, cx, y(st[1]), y(st[0]), "#000", 2.2).attr("stroke-dasharray", "6,5");
    hline(g, cx - cap/2, cx + cap/2, y(st[0]), "#000", 2.4);
    hline(g, cx - cap/2, cx + cap/2, y(st[4]), "#000", 2.4);
    g.append("rect").attr("x", cx - bw/2).attr("width", bw).attr("y", y(st[3])).attr("height", y(st[1]) - y(st[3]))
      .attr("fill", "none").attr("stroke", "#000").attr("stroke-width", 2.3);
    hline(g, cx - bw/2, cx + bw/2, y(st[2]), "#000", 2.3);
    s.out[i].forEach(v => {
      hline(g, cx - 4, cx + 4, y(v), "#000", 2.2);
      vline(g, cx, y(v) - 4, y(v) + 4, "#000", 2.2);
    });
  }));
  bandNames.forEach((b, i) => {
    const cx = x(b) + o.sigDx, ns = o.sig[i] === "ns";
    const half = ns ? 20.5 : 26;
    hline(g, cx - half, cx + half, o.sigY, "#111", ns ? 3 : 2);
    if (ns) text(g, cx, o.sigY - 11, "ns", {anchor:"middle"});
    else text(g, cx, o.sigY - 13, o.sig[i], {anchor:"middle", size:13});
    const extra = b === "Theta" ? 15 : 0;
    text(g, x(b) + o.lblDx + extra, y(-4) + o.lblDy, b, {anchor:"end", rotate:-30, baseline:"central", size:15.5});
  });
  text(g, o.ylabX, o.ylabY, "Median of feature amplitude (zscore)", {anchor:"middle", rotate:-90, baseline:"central"});
  // legend
  g.append("rect").attr("x", o.legX).attr("y", 1206.5).attr("width", 25.5).attr("height", 11.7).attr("fill", o.colB);
  g.append("rect").attr("x", o.legX).attr("y", 1226.5).attr("width", 25.5).attr("height", 11.7).attr("fill", PURPLE);
  text(g, o.legX + 32.5, 1216.5, o.legB, {size:15.5});
  text(g, o.legX + 32.5, 1239.5, "Neutral State", {size:15.5});
}
svg.append("text").attr("x", 18.2).attr("y", 604).text("Group level spectral features")
  .attr("font-size", 16).attr("fill", TXT).attr("font-family", FONT);
groupPanel({letter:"C", letterX:19.5, title:"From Positive vs. neutral decoders", titleX:384,
  yTop:690.6, yBot:1114.8, L:114, R:643, tickRange:[167.4, 590.3], pad:4,
  ptsA:cNeutralPts, boxA:cNeutralBox, outA:cNeutralOut,
  ptsB:cPositivePts, boxB:cPositiveBox, outB:cPositiveOut, colB:GREEN,
  sig:cSignif, sigY:694.5, sigDx:0, lblDx:-1, lblDy:14,
  ylabX:67.2, ylabY:893, legX:105.4, legB:"Positive expressions"});
groupPanel({letter:"D", letterX:703, title:"From Negative vs. neutral decoders", titleX:1061.5,
  yTop:698, yBot:1115.6, L:759.7, R:1287.6, tickRange:[812.4, 1235], pad:7,
  ptsA:dNeutralPts, boxA:dNeutralBox, outA:dNeutralOut,
  ptsB:dNegativePts, boxB:dNegativeBox, outB:dNegativeOut, colB:ORANGE,
  sig:dSignif, sigY:692.5, sigDx:-5, lblDx:-7, lblDy:18,
  ylabX:701.2, ylabY:889, legX:796.6, legB:"Negative expressions"});

// ================= PANELS E / F =================
// spread layout: horizontal spread follows a kernel density of the values,
// points placed along it with a deterministic low-discrepancy (golden ratio) sequence
function spread(values, ys, maxHalf, minFrac) {
  const bw = 0.35;
  const dens = v => d3.sum(values, u => Math.exp(-0.5 * ((v - u) / bw) ** 2));
  const dmax = d3.max(values, dens);
  const sorted = values.slice().sort((a, b) => b - a);
  return sorted.map((v, i) => {
    const half = maxHalf * (minFrac + (1 - minFrac) * dens(v) / dmax);
    const t = (0.5 + i * 0.6180339887) % 1;
    return {v, y: ys(v), x: (2 * t - 1) * half};
  });
}
function clusterPanel(o) {
  const g = svg.append("g");
  text(g, o.letterX, 1299, o.letter);
  text(g, o.titleX, o.titleY, o.title, {anchor:"middle"});
  const y = d3.scaleLinear().domain(o.yDom).range([o.yBot, o.yTop]);
  const x = d3.scalePoint().domain(clusterNames).range(o.tickRange);
  vline(g, o.L, o.yTop, o.yBot, AXIS, 1.2);
  hline(g, o.L, o.R, o.yBot, AXIS, 1.2);
  g.append("g").attr("transform", `translate(${o.L},0)`)
    .call(d3.axisLeft(y).tickValues(efTicks).tickSize(-3.5).tickPadding(3.5).tickFormat(fmt))
    .call(s => styleAxis(s, 17));
  g.append("g").attr("transform", `translate(0,${o.yBot})`)
    .call(d3.axisBottom(x).tickSize(-5).tickFormat(""))
    .call(s => styleAxis(s, 16));
  const sets = [
    {pts:o.lowPts, box:o.lowBox, out:o.lowOut, col:SLATE, boxCol:o.lowBoxCol, half:o.lowHalf},
    {pts:o.gamPts, box:o.gamBox, out:o.gamOut, col:"#000", boxCol:"#000", half:o.gamHalf}
  ];
  sets.forEach((s, k) => {
    const cx = x(clusterNames[k]);
    const sw = spread(s.pts, y, s.half, o.minFrac);
    g.selectAll(null).data(sw).enter().append("circle")
      .attr("cx", d => cx + d.x).attr("cy", d => d.y).attr("r", 2.3)
      .attr("fill", "#fff").attr("stroke", s.col).attr("stroke-width", 2.1);
    const st = s.box, bw = 26, cap = 13;
    vline(g, cx, y(st[3]), y(st[4]), s.boxCol, 1.5).attr("stroke-dasharray", "6,5");
    vline(g, cx, y(st[1]), y(st[0]), s.boxCol, 1.5).attr("stroke-dasharray", "6,5");
    hline(g, cx - cap/2, cx + cap/2, y(st[0]), s.boxCol, 1.6);
    hline(g, cx - cap/2, cx + cap/2, y(st[4]), s.boxCol, 1.6);
    g.append("rect").attr("x", cx - bw/2).attr("width", bw).attr("y", y(st[3])).attr("height", y(st[1]) - y(st[3]))
      .attr("fill", "none").attr("stroke", s.boxCol).attr("stroke-width", 1.6);
    hline(g, cx - bw/2, cx + bw/2, y(st[2]), s.boxCol, 1.6);
    s.out.forEach(v => {
      hline(g, cx - 3, cx + 3, y(v), o.plusCol, 1.6);
      vline(g, cx, y(v) - 3, y(v) + 3, o.plusCol, 1.6);
    });
  });
  // significance
  const mid = (x(clusterNames[0]) + x(clusterNames[1])) / 2 + o.sigDx;
  hline(g, mid - 25, mid + 25, 1352.7, "#222", 1.8);
  text(g, mid - 1, 1342, "***", {anchor:"middle", size:13});
  // arrows
  const ax = o.arrowX;
  vline(g, ax, o.upFrom, o.upTip + 16, o.upCol, 2.2);
  g.append("path").attr("d", `M${ax},${o.upTip} L${ax - 8},${o.upTip + 18} L${ax},${o.upTip + 13} L${ax + 8},${o.upTip + 18} Z`).attr("fill", o.upCol);
  vline(g, ax, o.downFrom, o.downTip - 16, PURPLE, 2.2);
  g.append("path").attr("d", `M${ax},${o.downTip} L${ax - 8},${o.downTip - 18} L${ax},${o.downTip - 13} L${ax + 8},${o.downTip - 18} Z`).attr("fill", PURPLE);
  text(g, o.sideX, o.upLabY, o.upLab, {anchor:"middle", rotate:-90, baseline:"central"});
  text(g, o.sideX, o.downLabY, "neutral state", {anchor:"middle", rotate:-90, baseline:"central"});
  text(g, o.ylabX, 1582.8, "Median-Difference (zscore)", {anchor:"middle", rotate:-90, baseline:"central"});
  // category labels
  const lg = g.append("g").attr("transform", `translate(${x(clusterNames[0]) + o.lowLblDx},${o.yBot + o.lowLblDy}) rotate(-22)`);
  lg.append("text").text("Low-frequency").attr("text-anchor", "middle").attr("dominant-baseline", "central")
    .attr("font-size", 16).attr("fill", TXT).attr("font-family", FONT);
  lg.append("text").text("cluster").attr("x", -6).attr("y", 17.5).attr("text-anchor", "middle").attr("dominant-baseline", "central")
    .attr("font-size", 16).attr("fill", TXT).attr("font-family", FONT);
  g.append("text").text("Gamma cluster")
    .attr("transform", `translate(${x(clusterNames[1]) + o.gamLblDx},${o.yBot + o.gamLblDy}) rotate(-22)`)
    .attr("text-anchor", "middle").attr("dominant-baseline", "central")
    .attr("font-size", 16).attr("fill", TXT).attr("font-family", FONT);
}
clusterPanel({letter:"E", letterX:19.5, title:"From positive vs. neutral decoders", titleX:294, titleY:1296,
  yDom:[-4.52, 4.66], yBot:1735, yTop:1343.3, L:158.5, R:446.7, tickRange:[243.3, 373.3],
  lowPts:eLowPts, lowBox:eBoxLow, lowOut:eOutLow, lowBoxCol:SLATE, plusCol:SLATE,
  gamPts:eGammaPts, gamBox:eBoxGamma, gamOut:eOutGamma, lowHalf:56, gamHalf:54, minFrac:0.4,
  sigDx:-19.5, arrowX:115, upFrom:1539, upTip:1369.5, downFrom:1547.6, downTip:1717.4, upCol:GREEN,
  sideX:94.5, upLab:"positive exp", upLabY:1454.6, downLabY:1619.9, ylabX:52.7,
  lowLblDx:-70.7, lowLblDy:29.6, gamLblDx:-36, gamLblDy:33});
clusterPanel({letter:"F", letterX:703, title:"From negative vs. neutral decoders", titleX:967, titleY:1299,
  yDom:[-4.68, 4.59], yBot:1733.3, yTop:1332.3, L:848.5, R:1096.7, tickRange:[904.3, 1035],
  lowPts:fLowPts, lowBox:fBoxLow, lowOut:fOutLow, lowBoxCol:"#000", plusCol:"#000",
  gamPts:fGammaPts, gamBox:fBoxGamma, gamOut:fOutGamma, lowHalf:36, gamHalf:32, minFrac:0.3,
  sigDx:-2.3, arrowX:806, upFrom:1533.8, upTip:1363.3, downFrom:1545.9, downTip:1716.3, upCol:ORANGE,
  sideX:786.8, upLab:"negative exp", upLabY:1452.9, downLabY:1618.2, ylabX:745,
  lowLblDx:-45.8, lowLblDy:30.2, gamLblDx:-51, gamLblDy:32});
</script>
</body></html>
